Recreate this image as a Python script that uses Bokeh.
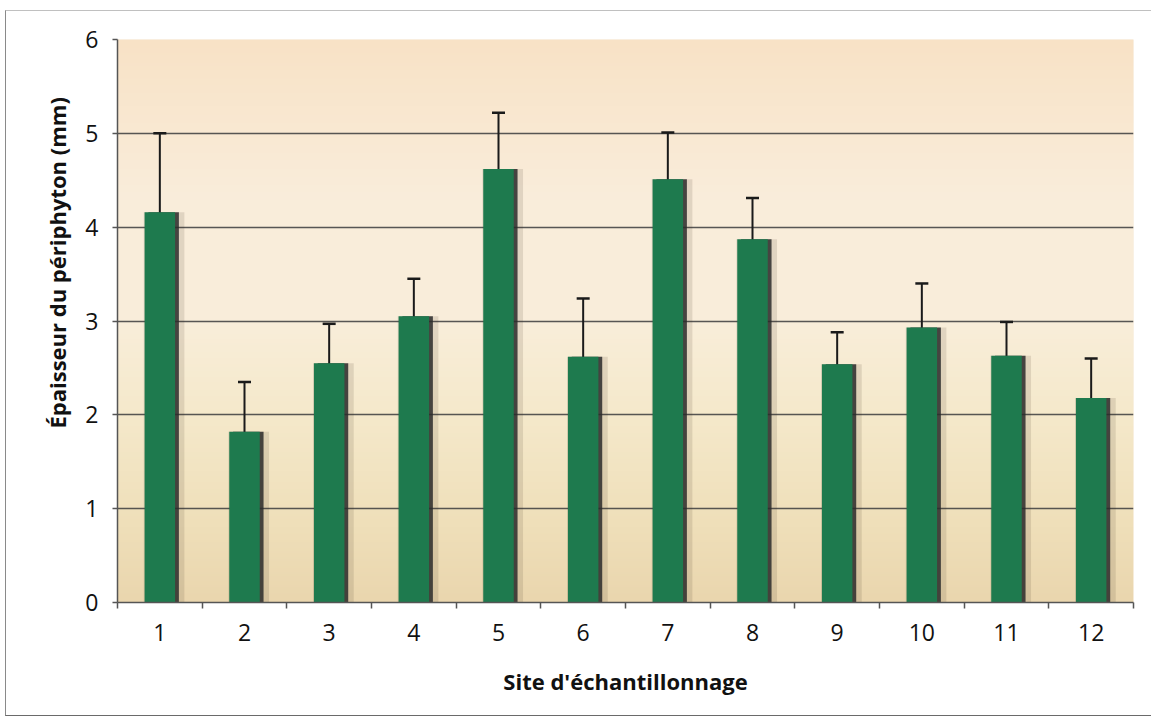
import numpy as np
from bokeh.plotting import figure
from bokeh.models import FixedTicker, Whisker, TeeHead, ColumnDataSource, Title
from bokeh.embed import file_html
from bokeh.resources import INLINE

# ---- data ----
sites = [1, 2, 3, 4, 5, 6, 7, 8, 9, 10, 11, 12]
site_labels = ["1", "2", "3", "4", "5", "6", "7", "8", "9", "10", "11", "12"]
thickness = [4.16, 1.82, 2.55, 3.05, 4.62, 2.62, 4.51, 3.87, 2.54, 2.93, 2.63, 2.18]
errors = [0.84, 0.53, 0.42, 0.40, 0.60, 0.62, 0.50, 0.44, 0.34, 0.47, 0.36, 0.42]
y_ticks = [0, 1, 2, 3, 4, 5, 6]
x_title = "Site d'échantillonnage"
y_title = "Épaisseur du périphyton (mm)"

src = ColumnDataSource(dict(
    x=sites,
    top=thickness,
    upper=[v + e for v, e in zip(thickness, errors)],
    lower=[v - e for v, e in zip(thickness, errors)],
    xs=[s + 0.045 for s in sites],
    xs2=[s + 0.05 for s in sites],
))

p = figure(width=1146, height=706, x_range=(0.5, 12.5), y_range=(0, 6),
           output_backend="svg", toolbar_location=None,
           min_border_left=111, min_border_right=19, min_border_top=28,
           min_border_bottom=115)
p.styles = {"border-left": "1px solid #8a8a8a", "border-top": "1px solid #c0c0c0",
            "border-bottom": "1px solid #6a6a6a",
            "margin-left": "5px", "margin-top": "10px"}
p.border_fill_color = "white"
p.background_fill_color = "#F6E8D2"
p.outline_line_color = None

# background gradient of the plot area (decoration)
stops_y = [0.0, 0.8, 2.0, 3.0, 4.3, 5.3, 6.0]
stops_c = [(234, 214, 174), (239, 223, 185), (245, 233, 203),
           (249, 238, 218), (250, 237, 219), (249, 231, 207), (248, 226, 198)]
n = 300
yy = np.linspace(0, 6, n)
img = np.zeros((n, 1), dtype=np.uint32)
view = img.view(dtype=np.uint8).reshape((n, 1, 4))
for ch in range(3):
    view[:, 0, ch] = np.interp(yy, stops_y, [c[ch] for c in stops_c]).astype(np.uint8)
view[:, 0, 3] = 255
p.image_rgba(image=[img], x=0.5, y=0, dw=12, dh=6, level="image")

# grid
p.xgrid.visible = False
p.ygrid.ticker = FixedTicker(ticks=y_ticks)
p.ygrid.grid_line_color = "#454545"
p.ygrid.grid_line_width = 1.6
p.ygrid.grid_line_alpha = 0.9

# bar shadows and bars
p.vbar(x="xs2", top="top", width=0.48, bottom=0, source=src,
       fill_color="#3a3020", fill_alpha=0.13, line_color=None)
p.vbar(x="xs", top="top", width=0.36, bottom=0, source=src,
       fill_color="#2a2a2a", fill_alpha=0.85, line_color=None)
p.vbar(x="x", top="top", width=0.36, bottom=0, source=src,
       fill_color="#1E7A4E", line_color=None)

# error bars
w = Whisker(base="x", upper="upper", lower="lower", source=src,
            line_color="#1a1a1a", line_width=2,
            upper_head=TeeHead(size=13, line_color="#1a1a1a", line_width=2.5),
            lower_head=TeeHead(size=13, line_color="#1a1a1a", line_width=2.5))
p.add_layout(w)

# axes
font = "Open Sans"
p.xaxis.ticker = FixedTicker(ticks=sites, minor_ticks=[s + 0.5 for s in [0] + sites])
p.xaxis.major_label_overrides = {s: l for s, l in zip(sites, site_labels)}
p.xaxis.major_tick_out = 0
p.xaxis.major_tick_in = 0
p.xaxis.minor_tick_out = 6
p.xaxis.minor_tick_in = 0
p.xaxis.minor_tick_line_color = "#555555"
p.xaxis.minor_tick_line_width = 1.5
p.xaxis.axis_line_color = "#555555"
p.xaxis.axis_line_width = 1.5
p.xaxis.major_label_standoff = 15
p.xaxis.axis_label = x_title
p.xaxis.axis_label_standoff = 22

p.yaxis.ticker = FixedTicker(ticks=y_ticks)
p.yaxis.minor_tick_line_color = None
p.yaxis.major_tick_out = 5
p.yaxis.major_tick_in = 0
p.yaxis.major_tick_line_color = "#555555"
p.yaxis.major_tick_line_width = 1.5
p.yaxis.axis_line_color = "#555555"
p.yaxis.axis_line_width = 1.5
p.yaxis.major_label_standoff = 14

for ax in (p.xaxis, p.yaxis):
    ax.major_label_text_font = font
    ax.major_label_text_font_size = "23px"
    ax.major_label_text_color = "#111111"
    ax.axis_label_text_font = font
    ax.axis_label_text_font_size = "22px"
    ax.axis_label_text_font_style = "bold"
    ax.axis_label_text_color = "#111111"

# y-axis title, shifted upward like the original
yt = Title(text=y_title, align="left", offset=174, standoff=22,
           text_font=font, text_font_size="22px", text_font_style="bold",
           text_color="#111111")
p.add_layout(yt, "left")

open("out.html", "w").write(file_html(p, INLINE))
